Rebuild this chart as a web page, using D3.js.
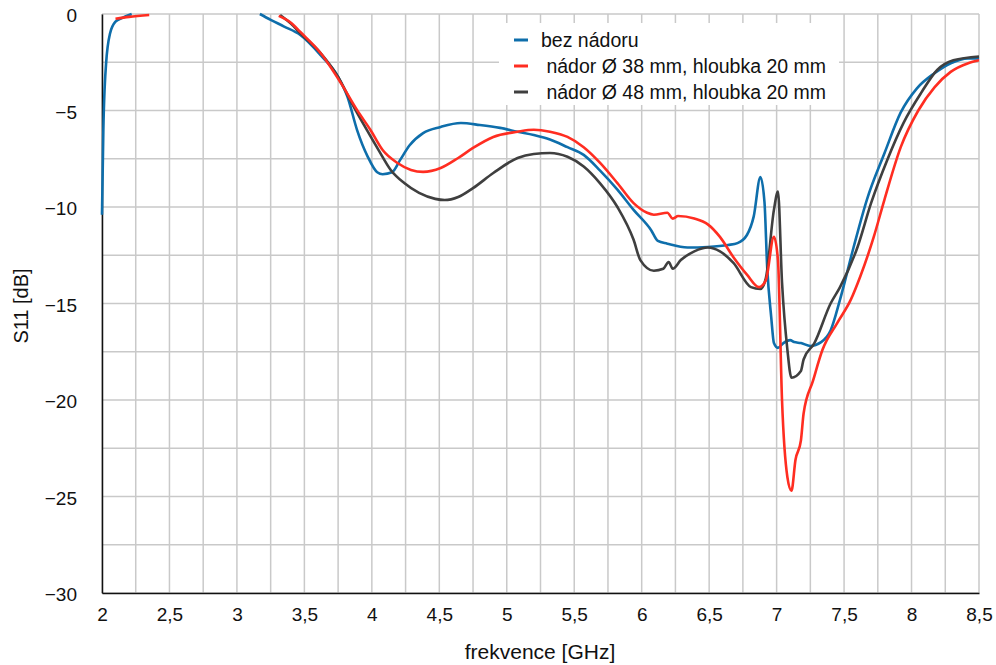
<!DOCTYPE html>
<html><head><meta charset="utf-8">
<script src="https://cdn.jsdelivr.net/npm/d3@7"></script>
<style>body{margin:0;background:#fff;} text{font-family:"Liberation Sans",Arial,sans-serif;fill:#111;}</style>
</head><body><svg id="c" width="996" height="665"></svg>
<script>
const xTicks = [2,2.5,3,3.5,4,4.5,5,5.5,6,6.5,7,7.5,8,8.5];
const yTicks = [0,-5,-10,-15,-20,-25,-30];
const seriesNames = ["bez nádoru"," nádor Ø 38 mm, hloubka 20 mm"," nádor Ø 48 mm, hloubka 20 mm"];
const seriesColors = ["#0e6eab","#ff2d21","#3f3f3f"];

const blueF = [2.0,2.01,2.03,2.06,2.1,2.15,2.22,null,3.17,3.25,3.35,3.47,3.62,3.75,3.82,3.89,3.97,4.04,4.08,4.15,4.21,4.28,4.38,4.51,4.66,4.8,4.95,5.08,5.2,5.32,5.45,5.57,5.69,5.82,5.94,6.07,6.12,6.19,6.34,6.49,6.64,6.71,6.78,6.83,6.88,6.91,6.93,6.96,6.98,7.01,7.05,7.1,7.13,7.18,7.25,7.33,7.4,7.47,7.57,7.67,7.8,7.92,8.04,8.17,8.29,8.42,8.5];
const blueS = [-10.4,-6,-2.6,-1.0,-0.4,-0.2,0,null,0,-0.3,-0.65,-1.09,-2.13,-3.26,-4.3,-6.0,-7.4,-8.2,-8.3,-8.2,-7.56,-6.8,-6.17,-5.85,-5.65,-5.75,-5.9,-6.1,-6.27,-6.5,-6.9,-7.3,-8.1,-9.1,-10.15,-11.2,-11.76,-11.9,-12.1,-12.07,-11.97,-11.87,-11.45,-10.5,-8.45,-9.74,-13.1,-15.7,-17.05,-17.3,-17.05,-16.9,-17.0,-17.05,-17.2,-17.0,-16.4,-14.8,-12.1,-9.6,-7.2,-5.1,-3.85,-3.07,-2.55,-2.3,-2.3];

const redF = [2.1,2.2,2.35,null,3.31,3.4,3.47,3.62,3.77,3.89,3.99,4.08,4.19,4.29,4.38,4.51,4.64,4.75,4.9,5.08,5.2,5.32,5.45,5.57,5.69,5.82,5.94,6.04,6.09,6.19,6.23,6.27,6.39,6.49,6.58,6.68,6.78,6.87,6.92,6.98,7.01,7.04,7.08,7.11,7.14,7.18,7.2,7.27,7.34,7.45,7.55,7.62,7.72,7.8,7.92,8.05,8.17,8.29,8.42,8.5];
const redS = [-0.25,-0.15,-0.05,null,-0.1,-0.45,-0.93,-2.02,-3.57,-4.97,-6.01,-7.05,-7.72,-8.08,-8.18,-7.98,-7.46,-6.94,-6.37,-6.1,-6.0,-6.1,-6.37,-6.9,-7.7,-8.76,-9.8,-10.3,-10.4,-10.3,-10.6,-10.47,-10.6,-10.9,-11.55,-12.6,-13.5,-14.15,-13.8,-11.55,-12.75,-20,-24,-24.7,-23.1,-22.1,-20.7,-19.0,-17.4,-16.0,-14.8,-13.6,-11.55,-9.6,-6.9,-5.0,-3.8,-3.0,-2.55,-2.4];

const blackF = [3.32,3.4,3.47,3.62,3.75,3.85,3.95,4.05,4.14,4.24,4.35,4.47,4.54,4.64,4.75,4.9,5.08,5.2,5.32,5.45,5.57,5.69,5.82,5.94,5.99,6.09,6.16,6.2,6.23,6.29,6.39,6.49,6.58,6.68,6.81,6.88,6.92,6.98,7.01,7.04,7.08,7.11,7.18,7.2,7.28,7.4,7.47,7.6,7.7,7.82,7.94,8.07,8.19,8.31,8.5];
const blackS = [-0.05,-0.5,-1.0,-2.02,-3.26,-4.6,-5.85,-7.05,-8.08,-8.76,-9.27,-9.58,-9.64,-9.48,-9.02,-8.24,-7.46,-7.25,-7.2,-7.4,-7.9,-8.76,-10.0,-11.7,-12.75,-13.3,-13.2,-12.85,-13.2,-12.75,-12.3,-12.1,-12.3,-12.9,-14.15,-14.25,-13.7,-10.15,-9.2,-13.9,-17.4,-18.85,-18.5,-17.9,-17.05,-15.0,-14.15,-12.07,-9.8,-7.56,-5.65,-4.1,-2.9,-2.4,-2.2];

const svg = d3.select("#c");
const L=102, R=979, T=14, B=593;
const x = d3.scaleLinear().domain([2,8.5]).range([L,R]);
const y = d3.scaleLinear().domain([-30,0]).range([B,T]);
const FONT = "Liberation Sans, Arial, sans-serif";

// grid
const g = svg.append("g");
const vGrid = d3.range(2,8.5001,0.25);
const hGrid = d3.range(-30,0.001,2.5);
g.selectAll(".vg").data(vGrid).join("line").attr("x1",d=>x(d)).attr("x2",d=>x(d)).attr("y1",T).attr("y2",B)
  .attr("stroke","#c9c9c9").attr("stroke-width",1.5);
g.selectAll(".hg").data(hGrid).join("line").attr("x1",L).attr("x2",R).attr("y1",d=>y(d)).attr("y2",d=>y(d))
  .attr("stroke","#c9c9c9").attr("stroke-width",1.5);

// axes
const xAxis = d3.axisBottom(x).tickValues(xTicks).tickSize(0).tickPadding(15)
  .tickFormat(d=>String(d).replace(".",","));
const gx = svg.append("g").attr("transform",`translate(0,${B})`).call(xAxis);
gx.select(".domain").attr("stroke","#111").attr("stroke-width",1.5);
gx.selectAll("text").attr("font-size",19).attr("font-family",FONT).attr("fill","#111");
const yAxis = d3.axisLeft(y).tickValues(yTicks).tickSize(0).tickPadding(25);
const gy = svg.append("g").attr("transform",`translate(${L},0)`).call(yAxis);
gy.select(".domain").attr("stroke","#111").attr("stroke-width",1.5);
gy.selectAll("text").attr("font-size",19).attr("font-family",FONT).attr("fill","#111").attr("dy","0.4em");

// lines (drawn: blue, black, red)
const series = [[blueF,blueS],[redF,redS],[blackF,blackS]];
const order = [0,2,1];
const line = d3.line().defined(d=>d[1]!=null).x(d=>x(d[0])).y(d=>y(d[1])).curve(d3.curveMonotoneX);
order.forEach(i=>{
  const s = series[i];
  const pts = s[0].map((f,j)=>[f,s[1][j]]);
  svg.append("path").datum(pts).attr("d",line).attr("fill","none")
    .attr("stroke",seriesColors[i]).attr("stroke-width",2.6).attr("stroke-linejoin","round");
});

// legend
const lg = svg.append("g");
lg.append("rect").attr("x",499).attr("y",23).attr("width",340).attr("height",82).attr("fill","#fff");
seriesNames.forEach((n,i)=>{
  const cy = 40 + i*26;
  lg.append("line").attr("x1",514).attr("x2",528).attr("y1",cy).attr("y2",cy)
    .attr("stroke",seriesColors[i]).attr("stroke-width",3);
  lg.append("text").attr("x",541).attr("y",cy).attr("dy","0.36em").attr("font-size",19.5)
    .style("white-space","pre").text(n);
});

// titles
svg.append("text").attr("x",540).attr("y",659).attr("text-anchor","middle").attr("font-size",21).text("frekvence [GHz]");
svg.append("text").attr("transform","translate(21,306) rotate(-90)").attr("dy","0.35em").attr("text-anchor","middle").attr("font-size",20).text("S11 [dB]");
</script></body></html>
